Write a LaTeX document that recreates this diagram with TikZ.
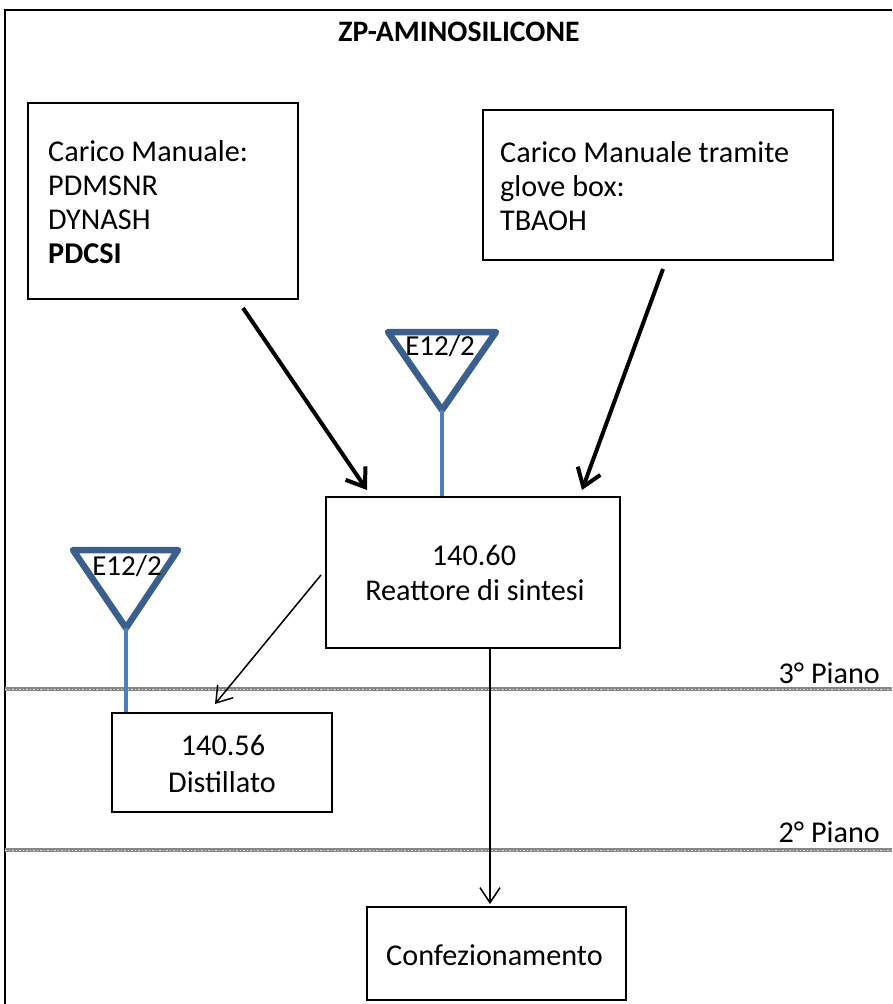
\documentclass[tikz,border=0pt]{standalone}
\usepackage{fontspec}
\setmainfont{Carlito}
\usetikzlibrary{arrows.meta,calc}
\definecolor{valveedge}{HTML}{3B5F8C}
\definecolor{stemblue}{HTML}{4A7EBF}
\definecolor{floorgray}{HTML}{878787}

\begin{document}
\begin{tikzpicture}[x=1pt,y=1pt,
  box/.style={draw=black, line width=2pt, inner sep=0pt, rectangle},
  lbl/.style={font=\fontsize{30.2}{34}\selectfont, inner sep=0pt},
  floor/.style={draw=floorgray, line width=3.2pt},
  floortex/.style={draw=white!70!floorgray, line width=1pt, dash pattern=on 1.5pt off 2pt},
  valve/.style={draw=valveedge, line width=6.5pt, line join=round, fill=white},
  valvelbl/.style={font=\fontsize{29}{34}\selectfont, inner sep=0pt},
  stem/.style={draw=stemblue, line width=3.3pt},
  feed/.style={draw=black, line width=4pt, -{Straight Barb[length=17pt,width=24pt]}},
  flow/.style={draw=black, line width=1.5pt, -{Straight Barb[length=15pt,width=20pt]}}]
\useasboundingbox (0,0) rectangle (892,-1004);

% outer frame (left and top edges)
\draw[line width=2.5pt] (5,-1004) -- (5,-10) -- (892,-10);

% title
\node[inner sep=0pt, font=\fontsize{29.7}{34}\selectfont\bfseries] (title) at (459,-32) {ZP-AMINOSILICONE};

% floor levels
\draw[floor] (5,-689) -- (892,-689);
\draw[floortex] (5,-689) -- (892,-689);
\draw[floor] (5,-850) -- (892,-850);
\draw[floortex] (5,-850) -- (892,-850);
\node[lbl, anchor=base east] (floor3) at (880,-683) {3° Piano};
\node[lbl, anchor=base east] (floor2) at (880,-842) {2° Piano};

% boxes
\node[box, minimum width=270pt, minimum height=196pt] (load1) at (163,-201) {};
\node[box, minimum width=350pt, minimum height=150pt] (load2) at (658,-185) {};
\node[box, minimum width=294pt, minimum height=151pt] (reactor) at (473,-572.5) {};
\node[box, minimum width=220pt, minimum height=99pt] (dist) at (222,-762.5) {};
\node[box, minimum width=259pt, minimum height=93pt] (pack) at (496.5,-953.5) {};

% box texts
\node[lbl, anchor=base west] (l1a) at (48,-161) {Carico Manuale:};
\node[lbl, anchor=base west] (l1b) at (48,-195) {PDMSNR};
\node[lbl, anchor=base west] (l1c) at (48,-229) {DYNASH};
\node[lbl, anchor=base west, font=\fontsize{30.2}{34}\selectfont\bfseries] (l1d) at (48,-263) {PDCSI};

\node[lbl, anchor=base west] (l2a) at (500,-162) {Carico Manuale tramite};
\node[lbl, anchor=base west] (l2b) at (500,-196) {glove box:};
\node[lbl, anchor=base west] (l2c) at (500,-230) {TBAOH};

\node[lbl, anchor=base] (r1) at (474,-565) {140.60};
\node[lbl, anchor=base] (r2) at (475,-600) {Reattore di sintesi};

\node[lbl, anchor=base] (d1) at (223,-755) {140.56};
\node[lbl, anchor=base] (d2) at (222,-792) {Distillato};

\node[lbl, anchor=base] (p1) at (494.5,-965) {Confezionamento};

% valves
\draw[valve] (388,-332) -- (496,-332) -- (442,-410) -- cycle;
\coordinate (v1) at (442,-410);
\node[valvelbl, anchor=base] (v1t) at (440,-355) {E12/2};
\draw[stem] (v1) -- (v1 |- reactor.north);

\draw[valve] (73,-550) -- (178,-550) -- (126,-628) -- cycle;
\coordinate (v2) at (126,-628);
\node[valvelbl, anchor=base] (v2t) at (127,-575) {E12/2};
\draw[stem] (v2) -- (v2 |- dist.north);

% material flows
\draw[feed] ($(load1.south)+(80,-8)$) -- ($(reactor.north)+(-106,6)$);
\draw[feed] ($(load2.south)+(5,-8)$) -- ($(reactor.north)+(109,6)$);
\draw[flow] ($(reactor.west)+(-4,-2.5)$) -- ($(dist.north)+(-7,8)$);
\draw[flow] ($(reactor.south)+(17,0)$) -- ($(pack.north)+(-6.5,2)$);
\end{tikzpicture}
\end{document}
